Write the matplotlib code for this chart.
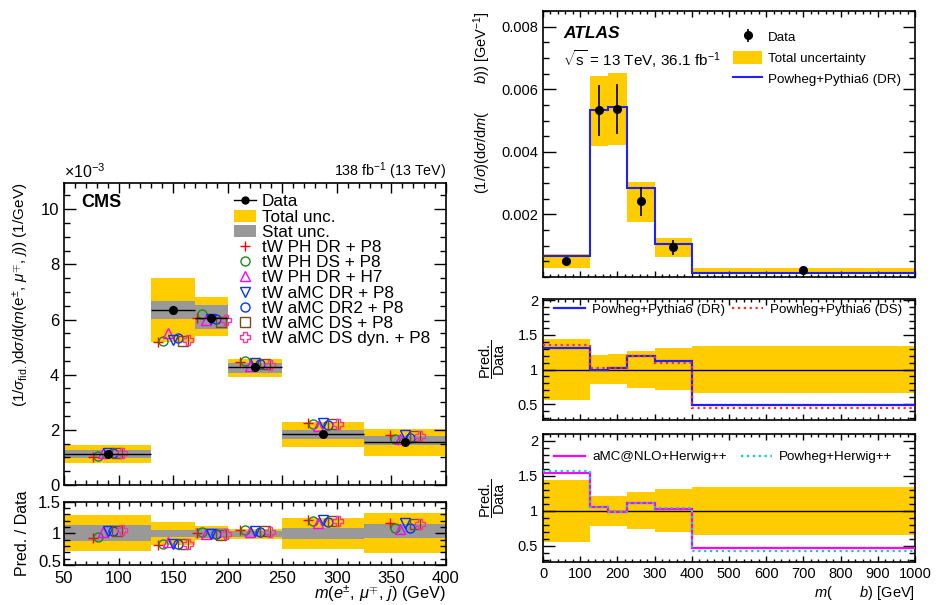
import matplotlib
matplotlib.use('Agg')
import matplotlib.pyplot as plt
import matplotlib.transforms as mtransforms
import numpy as np
from matplotlib.ticker import MultipleLocator, FixedLocator, FuncFormatter
from matplotlib.lines import Line2D
from matplotlib.patches import Patch
from matplotlib.legend import Legend

plt.rcParams['font.family'] = ['Liberation Sans', 'DejaVu Sans']
plt.rcParams['mathtext.fontset'] = 'custom'
plt.rcParams['mathtext.rm'] = 'Liberation Sans'
plt.rcParams['mathtext.it'] = 'Liberation Sans:italic'
plt.rcParams['mathtext.bf'] = 'Liberation Sans:bold'

# ---------------- CMS data (values in units of 1e-3 / GeV) ----------------
cms_edges = [50, 130, 170, 200, 250, 325, 400]
cms_data = [1.12, 6.35, 6.07, 4.27, 1.85, 1.55]
cms_tot_up = [1.45, 7.52, 6.80, 4.57, 2.30, 2.04]
cms_tot_dn = [0.81, 5.18, 5.42, 3.91, 1.39, 1.06]
cms_stat_up = [1.27, 6.67, 6.54, 4.44, 2.00, 1.78]
cms_stat_dn = [0.99, 6.01, 5.65, 4.05, 1.68, 1.44]
cms_model_names = ['tW PH DR + P8', 'tW PH DS + P8', 'tW PH DR + H7',
                   'tW aMC DR + P8', 'tW aMC DR2 + P8', 'tW aMC DS + P8',
                   'tW aMC DS dyn. + P8']
cms_ph_dr_p8 = [1.03, 5.20, 6.07, 4.47, 2.24, 1.81]
cms_ph_ds_p8 = [1.05, 5.23, 6.19, 4.50, 2.21, 1.67]
cms_ph_dr_h7 = [1.15, 5.52, 5.98, 4.33, 2.15, 1.66]
cms_amc_dr_p8 = [1.16, 5.26, 6.03, 4.41, 2.24, 1.81]
cms_amc_dr2_p8 = [1.16, 5.32, 6.01, 4.38, 2.18, 1.69]
cms_amc_ds_p8 = [1.16, 5.23, 5.90, 4.39, 2.21, 1.78]
cms_amc_dsdyn_p8 = [1.17, 5.26, 5.98, 4.35, 2.20, 1.78]

# ---------------- ATLAS data ----------------
atlas_edges = [0, 125, 175, 225, 300, 400, 1000]
atlas_data = [0.00051, 0.00533, 0.00538, 0.00242, 0.00095, 0.00022]
atlas_data_err = [0.00013, 0.00082, 0.00080, 0.00046, 0.00024, 0.00003]
atlas_tot_hi = [0.00073, 0.00641, 0.00652, 0.00305, 0.00124, 0.00030]
atlas_tot_lo = [0.00028, 0.00420, 0.00422, 0.00177, 0.00065, 0.00012]
atlas_pp6_dr = [0.00068, 0.00533, 0.00544, 0.00285, 0.00106, 0.00013]
atlas_ratio_hi = [1.44, 1.21, 1.22, 1.27, 1.31, 1.34]
atlas_ratio_lo = [0.56, 0.79, 0.79, 0.74, 0.70, 0.66]
ratio_pp6_dr = [1.31, 1.00, 1.02, 1.19, 1.12, 0.48]
ratio_pp6_ds = [1.36, 1.02, 1.02, 1.19, 1.09, 0.45]
ratio_amc_hpp = [1.54, 1.06, 0.99, 1.115, 1.03, 0.47]
ratio_ph_hpp = [1.565, 1.06, 0.98, 1.12, 1.04, 0.43]

YEL = '#ffcc00'
GRAY = '#999999'

fig = plt.figure(figsize=(9.37, 6.05), dpi=100)
W, H = 937.0, 605.0

def add_ax(x0, y0, x1, y1):
    return fig.add_axes([x0 / W, 1 - y1 / H, (x1 - x0) / W, (y1 - y0) / H])

def style(ax, xmaj, xmin, ymaj, ymin):
    ax.tick_params(which='both', direction='in', top=True, right=True, width=1)
    ax.tick_params(axis='x', which='major', length=xmaj)
    ax.tick_params(axis='x', which='minor', length=xmin)
    ax.tick_params(axis='y', which='major', length=ymaj)
    ax.tick_params(axis='y', which='minor', length=ymin)
    for s in ax.spines.values():
        s.set_linewidth(1.2)

# ================= CMS =================
ax1 = add_ax(64, 183, 446, 485)
ax1r = add_ax(64, 501.5, 446, 565)

ce = np.array(cms_edges, float)
cw = np.diff(ce)
cc = ce[:-1] + cw / 2
cd = np.array(cms_data)

ax1.bar(ce[:-1], np.array(cms_tot_up) - cms_tot_dn, width=cw, bottom=cms_tot_dn,
        align='edge', color=YEL, lw=0)
ax1.bar(ce[:-1], np.array(cms_stat_up) - cms_stat_dn, width=cw, bottom=cms_stat_dn,
        align='edge', color=GRAY, lw=0)
ax1.errorbar(cc, cd, xerr=cw / 2, fmt='o', color='k', ms=5.5, lw=1, capsize=0, zorder=5)

model_vals = [cms_ph_dr_p8, cms_ph_ds_p8, cms_ph_dr_h7, cms_amc_dr_p8,
              cms_amc_dr2_p8, cms_amc_ds_p8, cms_amc_dsdyn_p8]
model_style = [('+', '#ff0000', 'full'), ('o', '#1a8a1a', 'none'), ('^', '#ff00ff', 'none'),
               ('v', '#0033ff', 'none'), ('o', '#0033ff', 'none'), ('s', '#7a4a22', 'none'),
               ('P', '#ff3399', 'none')]
offsets = np.array([-13.5, -9, -4.5, 0, 4.5, 9, 13.5])
handles = [Line2D([], [], color='k', marker='o', ms=5, lw=1),
           Patch(fc=YEL, lw=0), Patch(fc=GRAY, lw=0)]
labels = ['Data', 'Total unc.', 'Stat unc.']
for k, (vals, (m, col, fill)) in enumerate(zip(model_vals, model_style)):
    mfc = 'none' if fill == 'none' else col
    ax1.plot(cc + offsets[k], vals, ls='none', marker=m, ms=6.5, mec=col, mfc=mfc,
             mew=1.0, zorder=4)
    ax1r.plot(cc + offsets[k], np.array(vals) / cd, ls='none', marker=m, ms=6.5, mec=col,
              mfc=mfc, mew=1.0, zorder=4)
    handles.append(Line2D([], [], ls='none', marker=m, ms=6.5, mec=col, mfc=mfc, mew=1.0))
    labels.append(cms_model_names[k])

ax1.set_xlim(50, 400)
ax1.set_ylim(0, 10.95)
ax1.xaxis.set_major_locator(MultipleLocator(50))
ax1.xaxis.set_minor_locator(MultipleLocator(10))
ax1.yaxis.set_major_locator(MultipleLocator(2))
ax1.yaxis.set_minor_locator(MultipleLocator(0.5))
ax1.set_xticklabels([])
style(ax1, 7, 3.5, 8.6, 4.3)
ax1.tick_params(axis='y', labelsize=12)
ax1.set_ylabel(r'$(1/\sigma_{\mathrm{fid.}})\mathrm{d}\sigma/\mathrm{d}(m(\mathrm{e}^{\pm},\,\mu^{\mp},\,j))$ (1/GeV)',
               fontsize=11, loc='top', labelpad=7)
ax1.text(0.045, 0.935, 'CMS', transform=ax1.transAxes, fontsize=13, fontweight='bold',
         ha='left', va='center')
ax1.legend(handles, labels, loc='upper left', bbox_to_anchor=(0.446, 0.962), frameon=False,
           fontsize=12.3, borderpad=0, labelspacing=0.01, handlelength=1.25,
           handletextpad=0.35, borderaxespad=0)
fig.text(64 / W, 1 - 172 / H, r'$\times$10$^{-3}$', fontsize=11.5, ha='left', va='center')
fig.text(446 / W, 1 - 171 / H, r'138 fb$^{-1}$ (13 TeV)', fontsize=10.3, ha='right', va='center')

ax1r.bar(ce[:-1], (np.array(cms_tot_up) - cms_tot_dn) / cd, width=cw,
         bottom=np.array(cms_tot_dn) / cd, align='edge', color=YEL, lw=0)
ax1r.bar(ce[:-1], (np.array(cms_stat_up) - cms_stat_dn) / cd, width=cw,
         bottom=np.array(cms_stat_dn) / cd, align='edge', color=GRAY, lw=0)
ax1r.set_xlim(50, 400)
ax1r.set_ylim(0.5, 1.5)
ax1r.xaxis.set_major_locator(MultipleLocator(50))
ax1r.xaxis.set_minor_locator(MultipleLocator(10))
ax1r.yaxis.set_major_locator(FixedLocator([0.5, 1, 1.5]))
ax1r.yaxis.set_minor_locator(MultipleLocator(0.1))
ax1r.yaxis.set_major_formatter(FuncFormatter(lambda v, p: f'{v:g}'))
style(ax1r, 5, 3, 8, 4.3)
ax1r.tick_params(labelsize=12)
ax1r.tick_params(axis='x', pad=4)
ax1r.tick_params(axis='y', pad=2)
ax1r.set_ylabel('Pred. / Data', fontsize=11.5, labelpad=6)
ax1r.set_xlabel(r'$m(e^{\pm},\,\mu^{\mp},\,j)$ (GeV)', fontsize=11.8, loc='right', labelpad=-1)
fig.canvas.draw()
for lab in ax1r.get_yticklabels():
    if lab.get_text() == '0.5':
        lab.set_transform(lab.get_transform() +
                          mtransforms.ScaledTranslation(0, 4 / 100, fig.dpi_scale_trans))

# ================= ATLAS =================
a2 = add_ax(543, 11, 915, 277)
a2r1 = add_ax(543, 299, 915, 420)
a2r2 = add_ax(543, 434, 915, 562)

ae = np.array(atlas_edges, float)
aw = np.diff(ae)
ac = ae[:-1] + aw / 2

a2.bar(ae[:-1], np.array(atlas_tot_hi) - atlas_tot_lo, width=aw, bottom=atlas_tot_lo,
       align='edge', color=YEL, lw=0)
a2.stairs(atlas_pp6_dr, ae, baseline=None, color='#1f1fff', lw=1.5, zorder=3)
eb = a2.errorbar(ac, atlas_data, yerr=atlas_data_err, fmt='o', color='k', ms=5.5, lw=1.2,
                 capsize=0, zorder=5)
a2.set_xlim(0, 1000)
a2.set_ylim(0, 0.0085)
a2.xaxis.set_major_locator(MultipleLocator(100))
a2.xaxis.set_minor_locator(MultipleLocator(20))
a2.yaxis.set_major_locator(FixedLocator([0.002, 0.004, 0.006, 0.008]))
a2.yaxis.set_minor_locator(MultipleLocator(0.0005))
a2.yaxis.set_major_formatter(FuncFormatter(lambda v, p: f'{v:.3f}'))
a2.set_xticklabels([])
style(a2, 4.3, 2.2, 9, 4.5)
a2.tick_params(axis='y', labelsize=10.5)
a2.set_ylabel(r'$(1/\sigma)(\mathrm{d}\sigma/\mathrm{d}m($       $b))$ [GeV$^{-1}$]',
              fontsize=10.5, loc='top', labelpad=6)
a2.text(0.055, 0.917, 'ATLAS', transform=a2.transAxes, fontsize=12.5, fontweight='bold',
        fontstyle='italic', ha='left', va='center')
a2.text(0.055, 0.82, r'$\sqrt{\mathrm{s}}$ = 13 TeV, 36.1 fb$^{-1}$', transform=a2.transAxes,
        fontsize=11, ha='left', va='center')
a2.legend([eb, Patch(fc=YEL, lw=0), Line2D([], [], color='#1f1fff', lw=1.5)],
          ['Data', 'Total uncertainty', 'Powheg+Pythia6 (DR)'],
          loc='upper left', bbox_to_anchor=(0.511, 0.93), frameon=False, fontsize=9.6,
          borderpad=0, labelspacing=0.5, handlelength=2.17, handletextpad=0.45,
          borderaxespad=0, handleheight=1.2)

ratio_specs = [
    (a2r1, [(ratio_pp6_dr, '#1f1fff', '-', 'Powheg+Pythia6 (DR)', 554),
            (ratio_pp6_ds, '#ff2a2a', ':', 'Powheg+Pythia6 (DS)', 732)], 310, 299, 420),
    (a2r2, [(ratio_amc_hpp, '#ff00ff', '-', 'aMC@NLO+Herwig++', 554),
            (ratio_ph_hpp, '#00d0e0', ':', 'Powheg+Herwig++', 741)], 457, 434, 562),
]
for axr, lines, ly, top, bot in ratio_specs:
    axr.bar(ae[:-1], np.array(atlas_ratio_hi) - atlas_ratio_lo, width=aw,
            bottom=atlas_ratio_lo, align='edge', color=YEL, lw=0)
    axr.axhline(1, color='k', lw=1)
    for vals, col, ls, lab, lx in lines:
        axr.stairs(vals, ae, baseline=None, color=col, lw=1.6, ls=ls, zorder=3)
    axr.set_xlim(0, 1000)
    axr.xaxis.set_major_locator(MultipleLocator(100))
    axr.xaxis.set_minor_locator(MultipleLocator(20))
    axr.yaxis.set_major_locator(FixedLocator([0.5, 1, 1.5, 2]))
    axr.yaxis.set_minor_locator(MultipleLocator(0.1))
    axr.yaxis.set_major_formatter(FuncFormatter(lambda v, p: f'{v:g}'))
    style(axr, 4.3, 2.2, 8.6, 4.3)
    axr.tick_params(labelsize=10.5)
    axr.set_ylabel(r'$\dfrac{\mathrm{Pred.}}{\mathrm{Data}}$', fontsize=10.5, labelpad=8)
    for vals, col, ls, lab, lx in lines:
        lg = Legend(axr, [Line2D([], [], color=col, ls=ls, lw=1.6)], [lab],
                    loc='center left',
                    bbox_to_anchor=((lx - 543) / 372, (bot - ly) / (bot - top)),
                    frameon=False, fontsize=9.6, borderpad=0, handlelength=2.3,
                    handletextpad=0.55, borderaxespad=0)
        axr.add_artist(lg)

a2r1.set_ylim(0.27, 2.02)
a2r1.set_xticklabels([])
a2r2.set_ylim(0.27, 2.1)
a2r2.tick_params(axis='x', labelsize=10.5)
a2r2.set_xlabel(r'$m($       $b)$ [GeV]', fontsize=10.5, loc='right', labelpad=2)

fig.savefig('out.png', dpi=100)
